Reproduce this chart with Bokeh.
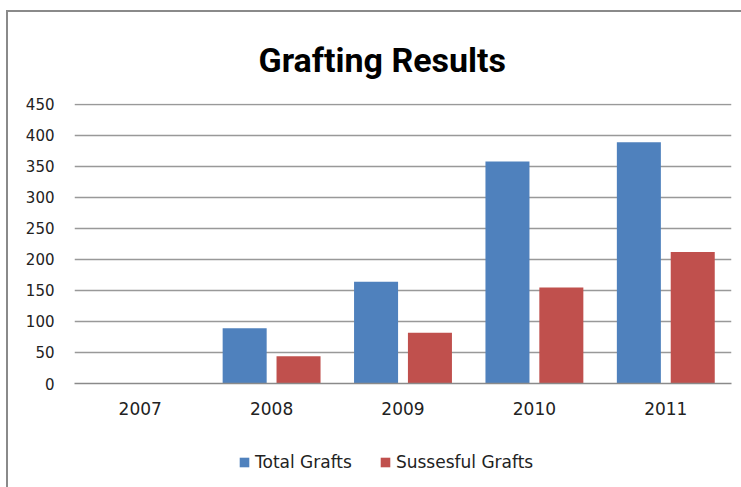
from bokeh.plotting import figure
from bokeh.models import FactorRange, FixedTicker, Legend, LegendItem
from bokeh.layouts import column
from bokeh.transform import dodge
from bokeh.embed import file_html
from bokeh.resources import INLINE

years = ["2007", "2008", "2009", "2010", "2011"]
total_grafts = [0, 89, 164, 358, 389]
successful_grafts = [0, 44, 82, 155, 212]
series_names = ["Total Grafts", "Sussesful Grafts"]
series_colors = ["#4F81BD", "#C0504D"]
y_ticks = [0, 50, 100, 150, 200, 250, 300, 350, 400, 450]

FONT = "DejaVu Sans"
TXT = "#222222"

p = figure(x_range=FactorRange(*years, range_padding=0), y_range=(0, 451.5),
           width=733, height=418, output_backend="svg", toolbar_location=None,
           min_border_left=66, min_border_right=10, min_border_top=91, min_border_bottom=47,
           title="Grafting Results")

p.title.text_font = "Roboto"
p.title.text_font_size = "34px"
p.title.text_font_style = "bold"
p.title.align = "left"
p.title.offset = 184
p.title.standoff = 47
p.title.text_color = "#000000"

p.vbar(x=dodge("x", -0.205, range=p.x_range), top="y", width=0.335,
       source={"x": years, "y": total_grafts}, fill_color=series_colors[0], line_color=None)
p.vbar(x=dodge("x", 0.205, range=p.x_range), top="y", width=0.335,
       source={"x": years, "y": successful_grafts}, fill_color=series_colors[1], line_color=None)

p.outline_line_color = None
p.background_fill_color = "white"
p.xgrid.grid_line_color = None
p.ygrid.grid_line_color = "#999999"
p.ygrid.grid_line_width = 1.3
p.yaxis.ticker = FixedTicker(ticks=y_ticks)

p.yaxis.axis_line_color = None
p.yaxis.major_tick_line_color = None
p.yaxis.minor_tick_line_color = None
p.yaxis.major_tick_out = 0
p.yaxis.major_label_standoff = 20
p.yaxis.major_label_text_font = FONT
p.yaxis.major_label_text_font_size = "15px"
p.yaxis.major_label_text_color = TXT

p.xaxis.axis_line_color = "#8a8a8a"
p.xaxis.axis_line_width = 1.3
p.xaxis.major_tick_line_color = None
p.xaxis.minor_tick_line_color = None
p.xaxis.major_tick_out = 0
p.xaxis.major_label_standoff = 18
p.xaxis.major_label_text_font = FONT
p.xaxis.major_label_text_font_size = "17px"
p.xaxis.major_label_text_color = TXT

# legend strip below the chart (zero-size swatch renderers only feed the legend)
q = figure(width=733, height=57, x_range=(0, 1), y_range=(0, 1),
           output_backend="svg", toolbar_location=None, min_border=0)
q.axis.visible = False
q.grid.visible = False
q.outline_line_color = None
r1 = q.vbar(x=[0.5], top=[0], width=0, fill_color=series_colors[0], line_color=None)
r2 = q.vbar(x=[0.5], top=[0], width=0, fill_color=series_colors[1], line_color=None)
legend = Legend(items=[LegendItem(label=series_names[0], renderers=[r1]),
                       LegendItem(label=series_names[1], renderers=[r2])],
                location=(164, 15), orientation="horizontal",
                glyph_width=12, glyph_height=12, label_standoff=5, spacing=27,
                padding=0, margin=0, border_line_color=None, background_fill_alpha=0,
                label_text_font=FONT, label_text_font_size="17px", label_text_color=TXT)
q.add_layout(legend, "center")

layout = column(p, q, spacing=0,
                styles={"margin-left": "6px", "margin-top": "10px",
                        "border-left": "2px solid #8a8a8a", "border-top": "2px solid #8a8a8a"})

open("out.html", "w").write(file_html(layout, INLINE))
